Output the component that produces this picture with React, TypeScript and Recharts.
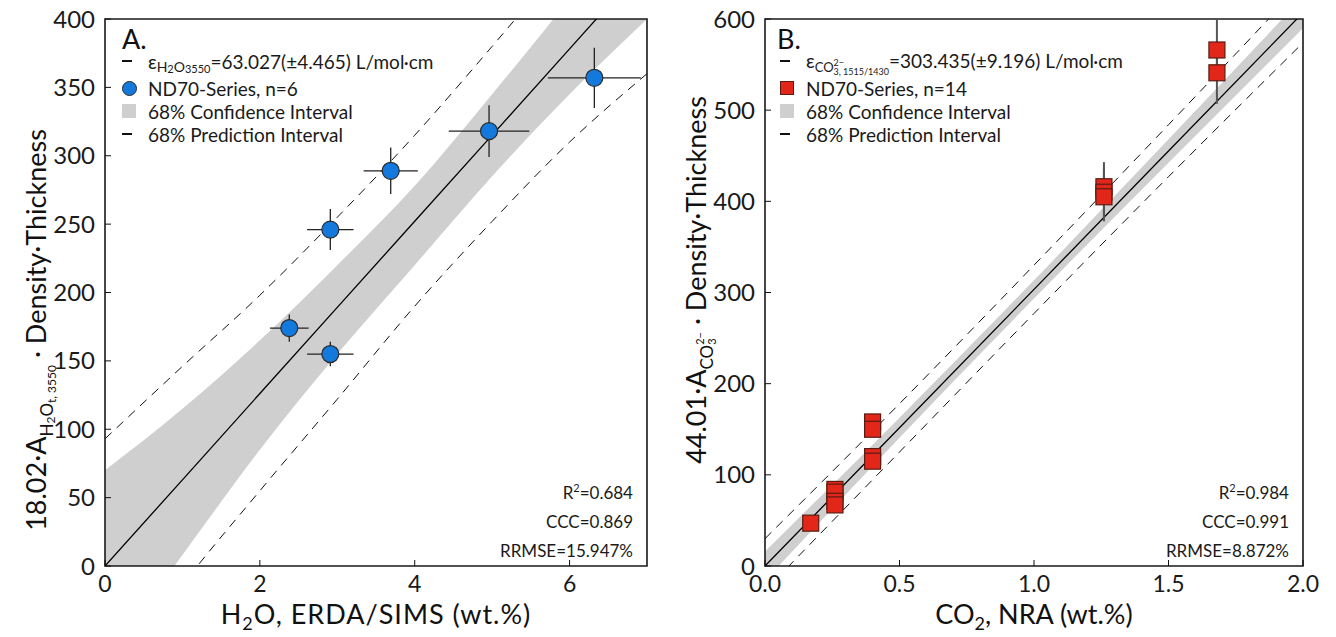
import React from 'react';
import { ComposedChart, Area, Line, Scatter, XAxis, YAxis, ErrorBar, ReferenceArea } from 'recharts';

const FONT = 'Lato, "Noto Sans", sans-serif';

// ---- Panel A (H2O) ----
const gridA = [0, 1, 2, 3, 4, 5, 6, 7];
const fitA = [0, 63.0, 126.1, 189.1, 252.1, 315.1, 378.2, 441.2];
const confLoA = [-70, 8, 85, 155, 220, 285, 345, 400];
const confHiA = [70, 115, 165, 220, 278, 345, 415, 490];
const predLoA = [-93, -14, 55, 122, 190, 252, 310, 360];
const predHiA = [93, 146, 198, 255, 315, 380, 447, 515];

const h2oX = [2.38, 2.91, 2.91, 3.69, 4.96, 6.32];
const h2oY = [174, 155, 246, 289, 318, 357];
const h2oXErr = [0.25, 0.3, 0.3, 0.35, 0.52, 0.6];
const h2oYErr = [10, 9, 15, 17, 19, 22];

const yTicksA = [0, 50, 100, 150, 200, 250, 300, 350, 400];
const xTicksA = [0, 2, 4, 6];

// ---- Panel B (CO2) ----
const gridB = [0, 0.5, 1.0, 1.5, 2.0];
const fitB = [0, 151.7, 303.4, 455.2, 606.9];
const confLoB = [-16, 140.7, 293.4, 442.2, 589.9];
const confHiB = [16, 162.7, 313.4, 468.2, 623.9];
const predLoB = [-27, 125, 277, 427, 574];
const predHiB = [30, 178, 330, 484, 640];

const co2X = [0.17, 0.26, 0.26, 0.26, 0.26, 0.40, 0.40, 0.40, 0.40, 1.26, 1.26, 1.26, 1.68, 1.68];
const co2Y = [47, 84, 81, 71, 67, 158, 150, 120, 115, 416, 410, 405, 566, 541];
const co2YErr = [5, 6, 6, 6, 6, 8, 8, 8, 8, 27, 27, 27, 34, 34];

const yTicksB = [0, 100, 200, 300, 400, 500, 600];
const xTicksB = [0, 0.5, 1.0, 1.5, 2.0];

const bandA = gridA.map((x, i) => ({ x, fit: fitA[i], conf: [confLoA[i], confHiA[i]], predLo: predLoA[i], predHi: predHiA[i] }));
const bandB = gridB.map((x, i) => ({ x, fit: fitB[i], conf: [confLoB[i], confHiB[i]], predLo: predLoB[i], predHi: predHiB[i] }));
const pointsA = h2oX.map((x, i) => ({ x, y: h2oY[i], xErr: h2oXErr[i], yErr: h2oYErr[i] }));
const pointsB = co2X.map((x, i) => ({ x, y: co2Y[i], yErr: co2YErr[i] }));

const yTickStyle = { fontSize: 24, fill: '#1a1a1a', fontFamily: FONT };
const xTickStyle = { fontSize: 23, fill: '#1a1a1a', fontFamily: FONT };
const sub = (size: number, shift: number): React.CSSProperties => ({ fontSize: size, position: 'relative', top: shift });

const Circle = (p: any) => <circle cx={p.cx} cy={p.cy} r={8.5} fill="#1479dd" stroke="#2a2a2a" strokeWidth={1.2} />;
const Square = (p: any) => <rect x={p.cx - 8} y={p.cy - 8} width={16} height={16} fill="#e3261a" stroke="#5a1c12" strokeWidth={1.2} />;

const LegendRow = ({ top, left, symbol, children }: any) => (
    <div style={{ position: 'absolute', top, left, height: 22, display: 'flex', alignItems: 'center', fontSize: 19, whiteSpace: 'nowrap', color: '#1a1a1a' }}>
        <div style={{ width: 26, display: 'flex', alignItems: 'center' }}>{symbol}</div>
        <span>{children}</span>
    </div>
);

const dash = <div style={{ width: 10, height: 1.5, background: '#111' }} />;

const Stats = ({ right, lines }: any) => (
    <>
        {lines.map((l: any, i: number) => (
            <div key={i} style={{ position: 'absolute', right, top: 481 + i * 29.5, fontSize: 17, color: '#1a1a1a', textAlign: 'right', whiteSpace: 'nowrap' }}>{l}</div>
        ))}
    </>
);

const xTitle = (left: number, spacing: number): React.CSSProperties => ({
    position: 'absolute', left, top: 598, lineHeight: 1.2, transform: 'translateX(-50%)', fontSize: 27,
    letterSpacing: spacing, whiteSpace: 'nowrap', color: '#111'
});

const PanelA = () => (
    <div style={{ position: 'absolute', left: 0, top: 0, width: 660, height: 637 }}>
        <ComposedChart width={660} height={637} data={bandA} margin={{ top: 19, right: 13, bottom: 0, left: 0 }}>
            <XAxis type="number" dataKey="x" domain={[0, 7]} ticks={xTicksA} allowDataOverflow height={71}
                tick={xTickStyle} tickSize={-6} tickMargin={16} stroke="#111" axisLine={false} />
            <YAxis type="number" domain={[0, 400]} ticks={yTicksA} allowDataOverflow width={105}
                tick={yTickStyle} tickSize={-6} tickMargin={16} stroke="#111" axisLine={false} />
            <Area dataKey="conf" type="monotone" fill="#cfcfcf" fillOpacity={1} stroke="none" isAnimationActive={false} />
            <Line dataKey="predHi" type="monotone" stroke="#111" strokeWidth={1} strokeDasharray="9 7" dot={false} isAnimationActive={false} />
            <Line dataKey="predLo" type="monotone" stroke="#111" strokeWidth={1} strokeDasharray="9 7" dot={false} isAnimationActive={false} />
            <Line dataKey="fit" type="linear" stroke="#000" strokeWidth={1.3} dot={false} isAnimationActive={false} />
            <Scatter data={pointsA} dataKey="y" shape={Circle} isAnimationActive={false}>
                <ErrorBar dataKey="xErr" direction="x" width={0} stroke="#222" strokeWidth={1.3} />
                <ErrorBar dataKey="yErr" direction="y" width={0} stroke="#222" strokeWidth={1.3} />
            </Scatter>
            <ReferenceArea x1={0} x2={7} y1={0} y2={400} fill="none" stroke="#1a1a1a" strokeWidth={1.6} ifOverflow="visible" />
        </ComposedChart>

        <div style={{ position: 'absolute', left: 122, top: 22, fontSize: 27, color: '#111' }}>A.</div>
        <LegendRow top={50} left={122} symbol={dash}>
            ε<span style={sub(14, 3)}>H<span style={sub(11, 1)}>2</span>O<span style={sub(11, 1)}>3550</span></span>=63.027(±4.465) L/mol·cm
        </LegendRow>
        <LegendRow top={77} left={122} symbol={<div style={{ width: 15, height: 15, borderRadius: '50%', background: '#1479dd', border: '1px solid #2a2a2a', boxSizing: 'border-box' }} />}>
            ND70-Series, n=6
        </LegendRow>
        <LegendRow top={100} left={122} symbol={<div style={{ width: 14, height: 14, background: '#cfcfcf' }} />}>
            68% Confidence Interval
        </LegendRow>
        <LegendRow top={123} left={122} symbol={dash}>
            68% Prediction Interval
        </LegendRow>

        <Stats right={27} lines={[<span>R<sup style={{ fontSize: 11 }}>2</sup>=0.684</span>, 'CCC=0.869', 'RRMSE=15.947%']} />

        <div style={xTitle(376, 1)}>
            H<span style={sub(18, 6)}>2</span>O, ERDA/SIMS (wt.%)
        </div>
        <div style={{ position: 'absolute', left: 35, top: 330, transform: 'translate(-50%, -50%) rotate(-90deg)', fontSize: 27, whiteSpace: 'nowrap', color: '#111' }}>
            18.02·A<span style={sub(17, 7)}>H<span style={sub(12, 2)}>2</span>O<span style={sub(12, 3)}>t, 3550</span></span> · Density·Thickness
        </div>
    </div>
);

const PanelB = () => (
    <div style={{ position: 'absolute', left: 660, top: 0, width: 676, height: 637 }}>
        <ComposedChart width={676} height={637} data={bandB} margin={{ top: 19, right: 33, bottom: 0, left: 0 }}>
            <XAxis type="number" dataKey="x" domain={[0, 2]} ticks={xTicksB} allowDataOverflow height={71}
                tick={xTickStyle} tickSize={-6} tickMargin={16} stroke="#111" axisLine={false}
                tickFormatter={(v: number) => v.toFixed(1)} />
            <YAxis type="number" domain={[0, 600]} ticks={yTicksB} allowDataOverflow width={105}
                tick={yTickStyle} tickSize={-6} tickMargin={16} stroke="#111" axisLine={false} />
            <Area dataKey="conf" type="monotone" fill="#cfcfcf" fillOpacity={1} stroke="none" isAnimationActive={false} />
            <Line dataKey="predHi" type="monotone" stroke="#111" strokeWidth={1} strokeDasharray="9 7" dot={false} isAnimationActive={false} />
            <Line dataKey="predLo" type="monotone" stroke="#111" strokeWidth={1} strokeDasharray="9 7" dot={false} isAnimationActive={false} />
            <Line dataKey="fit" type="linear" stroke="#000" strokeWidth={1.3} dot={false} isAnimationActive={false} />
            <Scatter data={pointsB} dataKey="y" shape={Square} isAnimationActive={false}>
                <ErrorBar dataKey="yErr" direction="y" width={0} stroke="#555" strokeWidth={2} />
            </Scatter>
            <ReferenceArea x1={0} x2={2} y1={0} y2={600} fill="none" stroke="#1a1a1a" strokeWidth={1.6} ifOverflow="visible" />
        </ComposedChart>

        <div style={{ position: 'absolute', left: 117, top: 22, fontSize: 27, color: '#111' }}>B.</div>
        <LegendRow top={50} left={120} symbol={dash}>
            ε<span style={{ display: 'inline-block', position: 'relative', top: 3, lineHeight: '12px' }}>
                <span style={{ fontSize: 13 }}>CO</span>
                <span style={{ display: 'inline-flex', flexDirection: 'column', fontSize: 9, lineHeight: '9px', verticalAlign: 'middle' }}>
                    <span>2−</span><span>3, 1515/1430</span>
                </span>
            </span>=303.435(±9.196) L/mol·cm
        </LegendRow>
        <LegendRow top={77} left={120} symbol={<div style={{ width: 14, height: 14, background: '#e3261a', border: '1px solid #5a1c12', boxSizing: 'border-box' }} />}>
            ND70-Series, n=14
        </LegendRow>
        <LegendRow top={100} left={120} symbol={<div style={{ width: 14, height: 14, background: '#cfcfcf' }} />}>
            68% Confidence Interval
        </LegendRow>
        <LegendRow top={123} left={120} symbol={dash}>
            68% Prediction Interval
        </LegendRow>

        <Stats right={47} lines={[<span>R<sup style={{ fontSize: 11 }}>2</sup>=0.984</span>, 'CCC=0.991', 'RRMSE=8.872%']} />

        <div style={xTitle(374, 0)}>
            CO<span style={sub(18, 6)}>2</span>, NRA (wt.%)
        </div>
        <div style={{ position: 'absolute', left: 35, top: 280, transform: 'translate(-50%, -50%) rotate(-90deg)', fontSize: 27, whiteSpace: 'nowrap', color: '#111' }}>
            44.01·A<span style={{ display: 'inline-block', position: 'relative', top: 7 }}>
                <span style={{ fontSize: 17 }}>CO</span>
                <span style={{ display: 'inline-flex', flexDirection: 'column', fontSize: 11, lineHeight: '12px', verticalAlign: 'middle' }}>
                    <span>2−</span><span>3</span>
                </span>
            </span> · Density·Thickness
        </div>
    </div>
);

export default function App() {
    return (
        <div style={{ position: 'absolute', left: 0, top: 0, width: 1336, height: 637, background: '#fff', fontFamily: FONT }}>
            <PanelA />
            <PanelB />
        </div>
    );
}
